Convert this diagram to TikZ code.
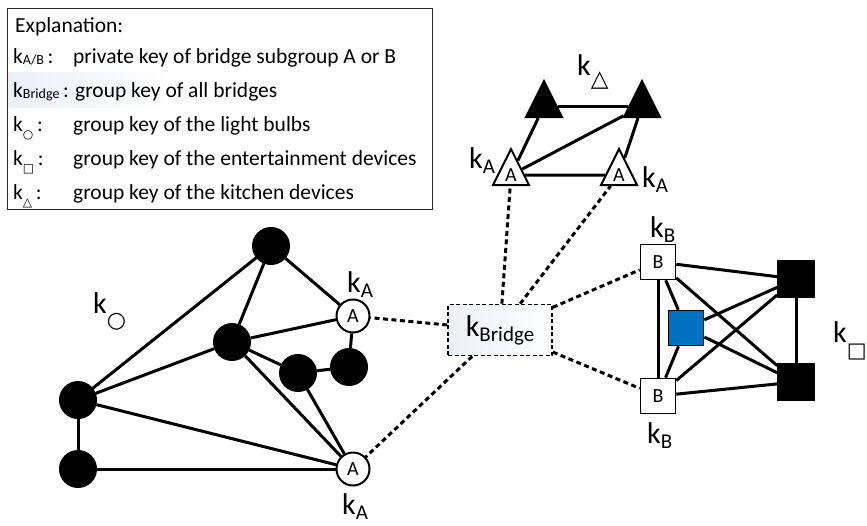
\documentclass[tikz,border=0pt]{standalone}
\usepackage{fontspec}
\setmainfont{Carlito}
\newfontfamily\symfont{DejaVu Sans}
\usepackage{xcolor}
\usepackage{tikz}
\usetikzlibrary{shapes.geometric}
\definecolor{mediablue}{HTML}{0070C0}
\definecolor{tintblue}{HTML}{EBEFF7}
\newcommand{\keyfont}{\fontsize{30}{30}\selectfont}
\newcommand{\subfont}{\fontsize{21}{21}\selectfont}
\newcommand{\legfont}{\fontsize{21.5}{24}\selectfont}
\newcommand{\legsubfont}{\fontsize{14}{14}\selectfont}
\newcommand{\nodefont}{\fontsize{20}{20}\selectfont}
% key with a letter subscript
\newcommand{\ksub}[1]{k{\subfont\raisebox{-5pt}{#1}}}
\newcommand{\lsub}[1]{k{\legsubfont\raisebox{-1.5pt}{#1}}}
% key with a shape subscript
\newcommand{\kshape}[3]{k{\symfont\fontsize{#1}{#1}\selectfont\raisebox{#2}{#3}}}
\tikzset{
  edge/.style      = {line width=3pt},
  link/.style      = {line width=3pt, dash pattern=on 5pt off 3.5pt},
  bulb/.style      = {circle, draw, line width=2pt, fill=black,
                      minimum size=36pt, inner sep=0pt},
  bulbA/.style     = {bulb, fill=white, minimum size=33pt, font=\nodefont},
  kitchen/.style   = {isosceles triangle, isosceles triangle stretches,
                      shape border rotate=90, draw, line width=2pt,
                      fill=black, minimum width=36pt, minimum height=36pt,
                      inner sep=0pt},
  kitchenA/.style  = {kitchen, fill=white, font=\nodefont},
  media/.style     = {rectangle, draw, line width=1.6pt, fill=black,
                      minimum size=36pt, inner sep=0pt},
  mediaB/.style    = {media, fill=white, minimum size=35pt, font=\nodefont},
  mediaX/.style    = {media, fill=mediablue, minimum size=35pt},
  bridgebox/.style = {rectangle, draw, line width=1.6pt,
                      dash pattern=on 4pt off 2.5pt,
                      left color=tintblue, right color=white,
                      minimum width=104pt, minimum height=51pt, inner sep=0pt},
  keylbl/.style    = {anchor=base west, inner sep=0pt, font=\keyfont},
  legkey/.style    = {anchor=base west, inner sep=0pt, font=\legfont},
  legtxt/.style    = {anchor=base west, inner sep=0pt, font=\legfont},
}

\begin{document}
\begin{tikzpicture}[x=1pt, y=-1pt]
    \useasboundingbox (0,0) rectangle (867,525);

    % ---------------- explanation
    \fill[left color=tintblue, right color=white] (8,72) rectangle (170,107);
    \draw[line width=1pt, draw=black!85] (7,8) rectangle (432,209);
    \node[legtxt] (lgh) at (15,32) {Explanation:};
    \node[legkey] (lk1) at (13,63) {\lsub{A/B}\,:};
    \node[legtxt] (lt1) at (73,63) {private key of bridge subgroup A or B};
    \node[legkey] (lk2) at (13,97) {\lsub{Bridge}\,:};
    \node[legtxt] (lt2) at (75,97) {group key of all bridges};
    \node[legkey] (lk3) at (13,131) {\kshape{12}{-7pt}{○}\,:};
    \node[legtxt] (lt3) at (73,131) {group key of the light bulbs};
    \node[legkey] (lk4) at (13,165) {\kshape{12}{-7pt}{□}\,:};
    \node[legtxt] (lt4) at (73,165) {group key of the entertainment devices};
    \node[legkey] (lk5) at (13,199) {\kshape{12}{-7pt}{△}\,:};
    \node[legtxt] (lt5) at (73,199) {group key of the kitchen devices};

    % ---------------- light bulbs
    \node[bulb] (l1) at (271,246) {};
    \node[bulb] (l2) at (232,342) {};
    \node[bulb] (l3) at (298,373) {};
    \node[bulb] (l4) at (349,367) {};
    \node[bulb] (l5) at (78,400) {};
    \node[bulb] (l6) at (78,469) {};
    \node[bulbA] (la) at (353,316) {A};
    \node[bulbA] (lb) at (353,469) {A};

    \foreach \a/\b in {l1/l5, l1/l2, l1/la, l2/l5, l2/la, l2/l3,
                       l3/l4, l4/la, l2/lb, l3/lb, l5/lb, l5/l6, l6/lb}
      {\draw[edge] (\a) -- (\b);}

    \node[keylbl] (kl) at (93,313) {\kshape{22}{-14pt}{○}};
    \node[keylbl] (kla) at (347,292) {\ksub{A}};
    \node[keylbl] (klb) at (342,514) {\ksub{A}};

    % ---------------- kitchen devices
    \node[kitchen] (t1) at (544,106) {};
    \node[kitchen] (t2) at (642,106) {};
    \node[kitchenA] (ta) at (511,175) {A};
    \node[kitchenA] (tb) at (619,175) {A};

    \foreach \a/\b in {t1/t2, t1/ta, t2/ta, t2/tb, ta/tb}
      {\draw[edge] (\a) -- (\b);}

    \node[keylbl] (kt) at (577,75) {\kshape{23}{-11pt}{△}};
    \node[keylbl] (kta) at (469,168) {\ksub{A}};
    \node[keylbl] (ktb) at (642,187) {\ksub{A}};

    % ---------------- entertainment devices
    \node[mediaB] (sa) at (658,262) {B};
    \node[mediaB] (sb) at (658,396) {B};
    \node[mediaX] (sx) at (686,328) {};
    \node[media] (s1) at (796,279) {};
    \node[media] (s2) at (796,382) {};

    \foreach \a/\b in {sa/sb, sa/sx, sb/sx, sa/s1, sa/s2, sb/s1, sb/s2,
                       sx/s1, sx/s2, s1/s2}
      {\draw[edge] (\a) -- (\b);}

    \node[keylbl] (ksa) at (650,237) {\ksub{B}};
    \node[keylbl] (ksb) at (647,443) {\ksub{B}};
    \node[keylbl] (ks) at (833,342) {\kshape{21}{-15pt}{□}};

    % ---------------- bridges
    \node[bridgebox] (br) at (500,330)
      {\keyfont k{\subfont\raisebox{-5pt}{Bridge}}};
    \foreach \a in {la, lb, ta, tb, sa, sb} {\draw[link] (br) -- (\a);}
\end{tikzpicture}
\end{document}
